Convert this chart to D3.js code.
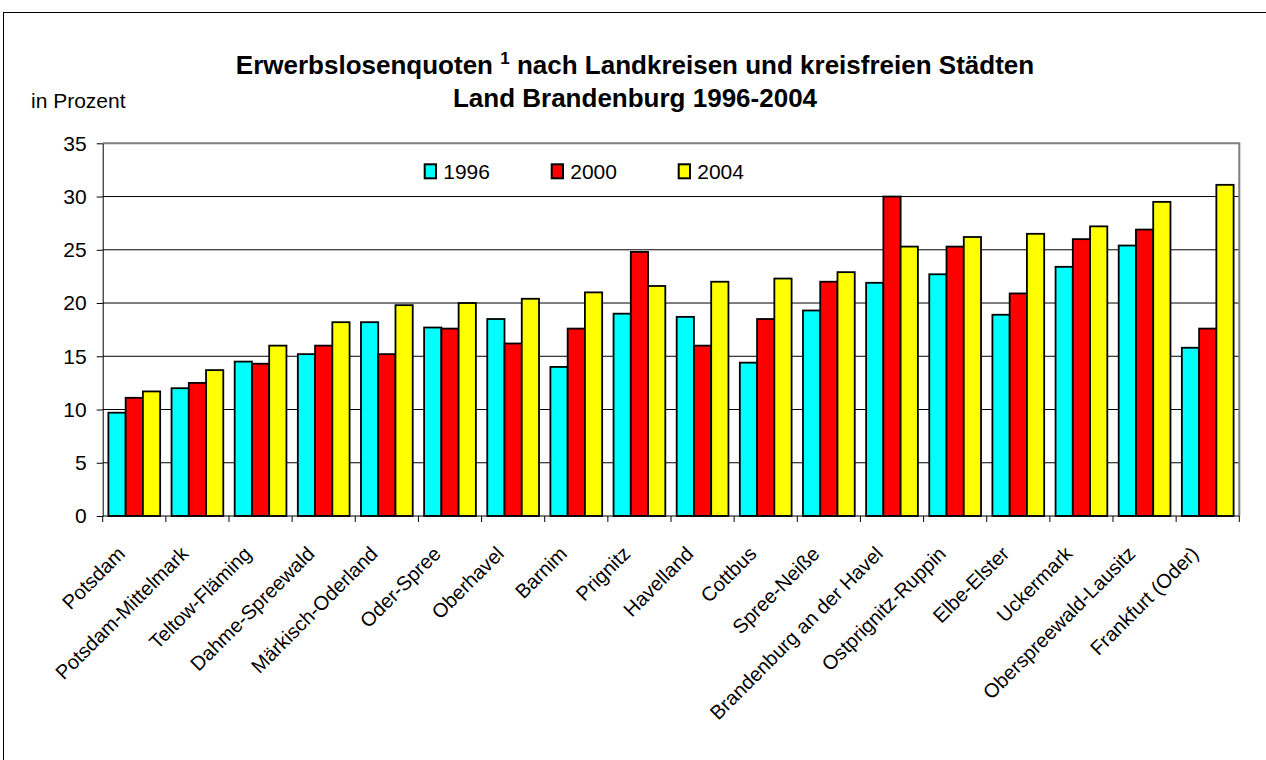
<!DOCTYPE html>
<html>
<head>
<meta charset="utf-8">
<script src="https://cdn.jsdelivr.net/npm/d3@7"></script>
<style>
  body { margin: 0; background: #fff; }
  text { font-family: "Liberation Sans", Arial, sans-serif; fill: #000; }
</style>
</head>
<body>
<div id="main"></div>
<script>
const categories = ["Potsdam", "Potsdam-Mittelmark", "Teltow-Fläming", "Dahme-Spreewald",
  "Märkisch-Oderland", "Oder-Spree", "Oberhavel", "Barnim", "Prignitz", "Havelland",
  "Cottbus", "Spree-Neiße", "Brandenburg an der Havel", "Ostprignitz-Ruppin",
  "Elbe-Elster", "Uckermark", "Oberspreewald-Lausitz", "Frankfurt (Oder)"]
const years = ["1996", "2000", "2004"]
const v1996 = [9.7, 12.0, 14.5, 15.2, 18.2, 17.7, 18.5, 14.0, 19.0, 18.7, 14.4, 19.3, 21.9, 22.7, 18.9, 23.4, 25.4, 15.8]
const v2000 = [11.1, 12.5, 14.3, 16.0, 15.2, 17.6, 16.2, 17.6, 24.8, 16.0, 18.5, 22.0, 30.0, 25.3, 20.9, 26.0, 26.9, 17.6]
const v2004 = [11.7, 13.7, 16.0, 18.2, 19.8, 20.0, 20.4, 21.0, 21.6, 22.0, 22.3, 22.9, 25.3, 26.2, 26.5, 27.2, 29.5, 31.1]
const yTicks = [0, 5, 10, 15, 20, 25, 30, 35]
const colors = ["#00ffff", "#ff0000", "#ffff00"]

const width = 1266
const height = 760
const plot = { left: 102.7, right: 1239.3, top: 143.3, bottom: 516 }

const series = [v1996, v2000, v2004]
const data = categories.map((c, i) => ({
  name: c,
  values: years.map((y, j) => ({ year: y, value: series[j][i] }))
}))

const svg = d3.select("#main").append("svg")
  .attr("width", width)
  .attr("height", height)

// outer chart frame (runs off the right and bottom edges)
svg.append("rect")
  .attr("x", 3.5).attr("y", 12.5)
  .attr("width", 1300).attr("height", 800)
  .attr("fill", "none").attr("stroke", "#000").attr("stroke-width", 1)

const x0 = d3.scaleBand()
  .domain(categories)
  .range([plot.left, plot.right])

const x1 = d3.scaleBand()
  .domain(years)
  .range([0, x0.bandwidth()])
  .paddingOuter(0.33)

const y = d3.scaleLinear()
  .domain([0, 35])
  .range([plot.bottom, plot.top])

// gridlines
svg.append("g")
  .selectAll("line")
  .data(yTicks.filter(t => t > 0 && t < 35))
  .join("line")
  .attr("x1", plot.left).attr("x2", plot.right)
  .attr("y1", d => y(d)).attr("y2", d => y(d))
  .attr("stroke", "#000").attr("stroke-width", 1)

// plot area border (top + right)
svg.append("path")
  .attr("d", `M${plot.left},${y(35)}H${plot.right}V${plot.bottom}`)
  .attr("fill", "none").attr("stroke", "#808080").attr("stroke-width", 2)

// bars
svg.append("g")
  .selectAll("g")
  .data(data)
  .join("g")
  .attr("transform", d => `translate(${x0(d.name)},0)`)
  .selectAll("rect")
  .data(d => d.values)
  .join("rect")
  .attr("x", d => x1(d.year))
  .attr("y", d => y(d.value))
  .attr("width", x1.bandwidth())
  .attr("height", d => y(0) - y(d.value))
  .attr("fill", (d, i) => colors[i])
  .attr("stroke", "#000")
  .attr("stroke-width", 1.8)

// y axis
const yAxis = d3.axisLeft(y)
  .tickValues(yTicks)
  .tickSize(6)
  .tickPadding(10)
  .tickSizeOuter(0)

svg.append("g")
  .attr("transform", `translate(${plot.left},0)`)
  .call(yAxis)
  .call(g => g.select(".domain").attr("stroke", "#000"))
  .call(g => g.selectAll("text").attr("font-size", 21).attr("font-family", "Liberation Sans, Arial, sans-serif"))

// x axis: ticks at category boundaries
const xAxisG = svg.append("g")
xAxisG.append("line")
  .attr("x1", plot.left).attr("x2", plot.right)
  .attr("y1", plot.bottom).attr("y2", plot.bottom)
  .attr("stroke", "#000")
xAxisG.selectAll("line.tick")
  .data(categories.concat(["end"]))
  .join("line")
  .attr("class", "tick")
  .attr("x1", (d, i) => i < categories.length ? x0(d) : plot.right)
  .attr("x2", (d, i) => i < categories.length ? x0(d) : plot.right)
  .attr("y1", plot.bottom).attr("y2", plot.bottom + 6)
  .attr("stroke", "#000")

xAxisG.selectAll("text")
  .data(categories)
  .join("text")
  .attr("transform", d => `translate(${x0(d) + x0.bandwidth() / 2 - 18},${plot.bottom + 29}) rotate(-45)`)
  .attr("text-anchor", "end")
  .attr("dy", "0.71em")
  .attr("font-size", 20)
  .text(d => d)

// legend
const legend = svg.append("g")
  .selectAll("g")
  .data(years)
  .join("g")
  .attr("transform", (d, i) => `translate(${424.7 + i * 127},164.3)`)
legend.append("rect")
  .attr("width", 11.3).attr("height", 14)
  .attr("fill", (d, i) => colors[i])
  .attr("stroke", "#000").attr("stroke-width", 2)
legend.append("text")
  .attr("x", 18.5).attr("y", 15)
  .attr("font-size", 21)
  .text(d => d)

// titles
const title = svg.append("text")
  .attr("x", 635).attr("y", 74)
  .attr("text-anchor", "middle")
  .attr("font-size", 26)
  .attr("font-weight", "bold")
title.append("tspan").text("Erwerbslosenquoten ")
title.append("tspan").attr("font-size", 17).attr("dy", -10).text("1")
title.append("tspan").attr("dy", 10).text(" nach Landkreisen und kreisfreien Städten")

svg.append("text")
  .attr("x", 635).attr("y", 107)
  .attr("text-anchor", "middle")
  .attr("font-size", 26)
  .attr("font-weight", "bold")
  .text("Land Brandenburg 1996-2004")

svg.append("text")
  .attr("x", 31).attr("y", 108)
  .attr("font-size", 21)
  .text("in Prozent")
</script>
</body>
</html>
